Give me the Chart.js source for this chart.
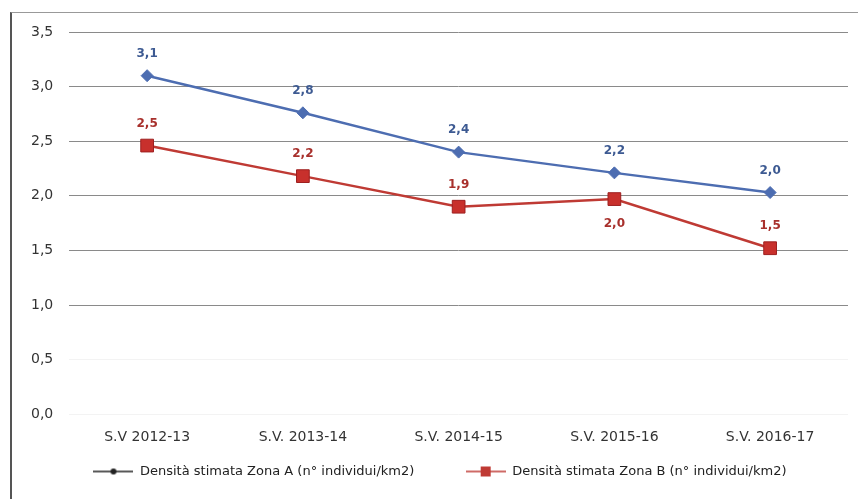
<!DOCTYPE html>
<html>
<head>
    <meta charset="utf-8">
    <title>Densità stimata</title>
    <script src="https://cdn.jsdelivr.net/npm/chart.js@4.4.0/dist/chart.umd.min.js"></script>
    <style>
        body { margin: 0; background: #fff; overflow: hidden; }
        #frame { position: absolute; left: 10px; top: 12px; width: 860px; height: 500px;
                 border-left: 2px solid #555; border-top: 1px solid #999; }
        #myChart { position: absolute; left: 0; top: 0; }
    </style>
</head>
<body>
    <div id="frame"></div>
    <canvas id="myChart" width="858" height="499"></canvas>

    <script>
        // data
        var categories = ['S.V 2012-13', 'S.V. 2013-14', 'S.V. 2014-15', 'S.V. 2015-16', 'S.V. 2016-17'];
        var zonaA = [3.1, 2.76, 2.4, 2.21, 2.03];
        var zonaB = [2.46, 2.18, 1.9, 1.97, 1.52];
        var labelA = 'Densità stimata Zona A (n° individui/km2)';
        var labelB = 'Densità stimata Zona B (n° individui/km2)';

        var FONT = '"DejaVu Sans", sans-serif';
        var blue = '#4d6db1';
        var red = '#bf3a34';

        function fmt(v) {
            return v.toFixed(1).replace('.', ',');
        }

        // small line + marker picture for the legend
        function legendIcon(color, marker) {
            var c = document.createElement('canvas');
            c.width = 40; c.height = 12;
            var g = c.getContext('2d');
            g.strokeStyle = color;
            g.lineWidth = 1.5;
            g.beginPath(); g.moveTo(0, 6); g.lineTo(40, 6); g.stroke();
            g.fillStyle = color;
            if (marker == 'rect') {
                g.fillRect(15, 1, 10, 10);
            } else {
                g.beginPath(); g.arc(20, 6, 3, 0, Math.PI * 2); g.fill();
            }
            return c;
        }

        // value labels next to the points
        var belowIdx = { 1: [3] };
        var valueLabels = {
            id: 'valueLabels',
            afterDatasetsDraw: function(chart) {
                var ctx = chart.ctx;
                ctx.save();
                ctx.font = 'bold 12px ' + FONT;
                ctx.textAlign = 'center';
                ctx.textBaseline = 'middle';
                chart.data.datasets.forEach(function(ds, di) {
                    var meta = chart.getDatasetMeta(di);
                    ctx.fillStyle = ds.labelColor;
                    meta.data.forEach(function(pt, i) {
                        var below = belowIdx[di] && belowIdx[di].indexOf(i) >= 0;
                        ctx.fillText(fmt(ds.data[i]), pt.x, below ? pt.y + 25 : pt.y - 22);
                    });
                });
                ctx.restore();
            }
        };

        var ctx = document.getElementById('myChart').getContext('2d');
        var myChart = new Chart(ctx, {
            type: 'line',
            data: {
                labels: categories,
                datasets: [{
                    label: labelA,
                    data: zonaA,
                    borderColor: blue,
                    backgroundColor: blue,
                    labelColor: '#3d5a92',
                    borderWidth: 2.5,
                    pointStyle: 'rectRot',
                    pointRadius: 6,
                    pointBorderWidth: 1,
                    pointBackgroundColor: blue,
                    pointBorderColor: blue
                }, {
                    label: labelB,
                    data: zonaB,
                    borderColor: red,
                    backgroundColor: red,
                    labelColor: '#a8302c',
                    borderWidth: 2.5,
                    pointStyle: 'rect',
                    pointRadius: 9,
                    pointBorderWidth: 1,
                    pointBackgroundColor: '#c8302c',
                    pointBorderColor: '#9e2020'
                }]
            },
            options: {
                responsive: false,
                animation: false,
                layout: { padding: { left: 15, right: -7, top: 32, bottom: 11 } },
                scales: {
                    x: {
                        offset: true,
                        grid: { display: false, drawTicks: false },
                        border: { display: false },
                        ticks: { padding: 15, color: '#333', font: { family: FONT, size: 14 } },
                        afterFit: function(scale) { scale.height -= 6; }
                    },
                    y: {
                        min: 0,
                        max: 3.5,
                        grid: {
                            drawTicks: false,
                            lineWidth: 1,
                            color: function(c) { return c.tick && c.tick.value >= 1 ? '#8a8a8a' : '#f3f3f3'; }
                        },
                        border: { display: false },
                        ticks: {
                            stepSize: 0.5,
                            padding: 16,
                            color: '#333',
                            font: { family: FONT, size: 14 },
                            callback: function(v) { return fmt(v); }
                        }
                    }
                },
                plugins: {
                    legend: {
                        position: 'bottom',
                        labels: {
                            usePointStyle: true,
                            pointStyleWidth: 40,
                            padding: 10,
                            color: '#222',
                            font: { family: FONT, size: 13 },
                            generateLabels: function(chart) {
                                return [{
                                    text: labelA + '          ',
                                    pointStyle: legendIcon('#222', 'dot'),
                                    datasetIndex: 0,
                                    fontColor: '#222'
                                }, {
                                    text: labelB,
                                    pointStyle: legendIcon(red, 'rect'),
                                    datasetIndex: 1,
                                    fontColor: '#222'
                                }];
                            }
                        }
                    },
                    tooltip: { enabled: false }
                }
            },
            plugins: [valueLabels]
        });
    </script>
</body>
</html>
